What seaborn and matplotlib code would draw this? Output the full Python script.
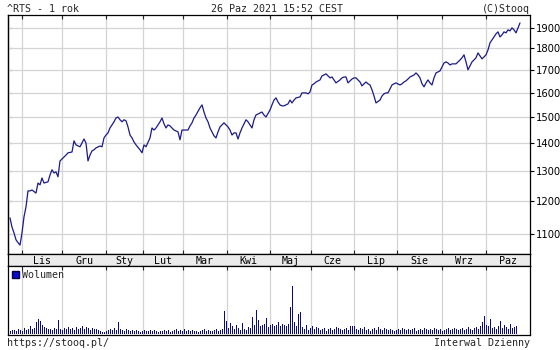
import matplotlib
matplotlib.use("Agg")
import matplotlib.pyplot as plt
from matplotlib.patches import Patch
from matplotlib.ticker import FixedLocator, NullLocator, NullFormatter
import seaborn as sns
import pandas as pd

# ---------------- data ----------------
title_left = "^RTS - 1 rok"
title_mid = "26 Paz 2021 15:52 CEST"
title_right = "(C)Stooq"
foot_left = "https://stooq.pl/"
foot_right = "Interwal Dzienny"

months = ["Lis", "Gru", "Sty", "Lut", "Mar", "Kwi", "Maj", "Cze", "Lip", "Sie", "Wrz", "Paz"]
month_start = [6, 26, 48, 66.5, 86.5, 108.5, 130, 150.5, 172, 193.5, 216, 238]
y_ticks = [1100, 1200, 1300, 1400, 1500, 1600, 1700, 1800, 1900]

day = [0, 1, 2, 3, 4, 5, 6, 7, 8, 9, 10, 11, 13, 14, 15, 16, 17, 19, 20, 21,
       22, 23, 24, 25, 26, 27, 28, 29, 31, 32, 33, 35, 37, 38, 39, 40, 41, 42, 43, 45,
       46, 47, 48, 49, 50, 51, 52, 53, 54, 55, 56, 57, 58, 59, 60, 61, 62, 63, 65, 66,
       67, 68, 70, 71, 72, 73, 74, 75, 76, 77, 78, 79, 80, 81, 82, 84, 85, 86, 88, 89,
       90, 91, 92, 93, 95, 96, 97, 98, 99, 100, 101, 102, 103, 104, 105, 107, 108, 109, 110, 111,
       112, 113, 114, 115, 116, 117, 118, 119, 120, 121, 122, 123, 125, 126, 127, 128, 130, 131, 132, 133,
       134, 135, 136, 137, 139, 140, 141, 142, 143, 145, 146, 148, 149, 150, 151, 152, 153, 155, 156, 157,
       158, 160, 161, 162, 163, 165, 166, 167, 168, 169, 171, 172, 173, 175, 176, 177, 178, 179, 180, 181,
       182, 183, 185, 186, 187, 188, 189, 190, 191, 192, 193, 195, 196, 197, 198, 199, 200, 202, 203, 204,
       205, 206, 207, 208, 209, 210, 211, 212, 213, 215, 216, 217, 218, 219, 220, 221, 222, 223, 225, 226,
       227, 228, 229, 230, 231, 232, 233, 234, 236, 237, 238, 239, 240, 241, 242, 243, 244, 245, 246, 247,
       248, 249, 250, 251, 252, 253, 254, 255]
close = [1148, 1120, 1103, 1083, 1075, 1068, 1103, 1151, 1182, 1233, 1233, 1236, 1226, 1259, 1253, 1276, 1259, 1263, 1286, 1304,
         1293, 1297, 1280, 1335, 1342, 1349, 1356, 1364, 1367, 1408, 1393, 1386, 1415, 1400, 1335, 1356, 1371, 1375, 1382, 1389,
         1386, 1419, 1430, 1438, 1457, 1469, 1481, 1496, 1500, 1489, 1481, 1489, 1485, 1461, 1430, 1419, 1404, 1393, 1375, 1364,
         1393, 1386, 1419, 1457, 1449, 1457, 1469, 1481, 1496, 1473, 1457, 1469, 1465, 1457, 1449, 1442, 1412, 1449, 1449, 1449,
         1465, 1477, 1496, 1508, 1537, 1549, 1520, 1496, 1481, 1457, 1442, 1427, 1419, 1442, 1461, 1477, 1469, 1461, 1449, 1430,
         1438, 1438, 1415, 1438, 1457, 1473, 1489, 1481, 1469, 1457, 1489, 1508, 1516, 1520, 1508, 1500, 1528, 1549, 1569, 1578,
         1561, 1549, 1545, 1545, 1553, 1569, 1557, 1569, 1578, 1582, 1599, 1599, 1595, 1603, 1633, 1638, 1646, 1655, 1673, 1677,
         1682, 1664, 1668, 1655, 1642, 1655, 1664, 1668, 1668, 1642, 1659, 1664, 1664, 1646, 1629, 1638, 1646, 1638, 1633, 1612,
         1586, 1557, 1569, 1586, 1595, 1599, 1599, 1616, 1633, 1638, 1642, 1633, 1638, 1646, 1651, 1659, 1668, 1677, 1686, 1677,
         1664, 1638, 1625, 1642, 1655, 1642, 1633, 1664, 1686, 1695, 1713, 1731, 1736, 1731, 1722, 1727, 1727, 1727, 1745, 1755,
         1769, 1736, 1700, 1718, 1736, 1745, 1755, 1778, 1750, 1759, 1769, 1792, 1826, 1840, 1855, 1870, 1880, 1855, 1865, 1880,
         1875, 1890, 1885, 1900, 1890, 1875, 1900, 1925]

volume = [3, 4, 4, 3, 5, 4, 3, 6, 4, 5,
          8, 5, 6, 12, 15, 13, 9, 7, 6, 5,
          5, 4, 6, 5, 14, 5, 4, 6, 5, 7,
          5, 6, 4, 7, 5, 6, 8, 5, 7, 6,
          4, 6, 5, 5, 4, 3, 2, 2, 3, 4,
          5, 4, 6, 4, 12, 5, 4, 3, 5, 4,
          3, 4, 3, 4, 3, 2, 3, 4, 3, 3,
          4, 3, 4, 3, 2, 3, 3, 4, 3, 4,
          2, 3, 4, 5, 3, 4, 3, 5, 3, 4,
          3, 4, 3, 3, 2, 3, 4, 5, 3, 4,
          3, 3, 4, 5, 3, 4, 5, 23, 13, 6,
          11, 8, 5, 9, 6, 4, 11, 5, 4, 7,
          6, 17, 9, 24, 14, 8, 9, 10, 16, 7,
          9, 10, 8, 9, 12, 8, 10, 9, 8, 10,
          28, 49, 12, 8, 20, 22, 7, 5, 9, 4,
          6, 8, 5, 7, 6, 4, 5, 6, 3, 5,
          6, 4, 5, 7, 6, 5, 4, 5, 6, 4,
          8, 8, 8, 5, 4, 6, 5, 7, 4, 5,
          3, 5, 6, 4, 7, 5, 4, 6, 5, 4,
          5, 4, 3, 4, 5, 4, 6, 5, 4, 5,
          4, 5, 6, 3, 4, 5, 4, 6, 5, 4,
          5, 4, 6, 5, 4, 5, 3, 4, 5, 6,
          4, 5, 6, 5, 4, 5, 6, 4, 5, 7,
          5, 4, 6, 7, 5, 8, 12, 18, 9, 8,
          15, 6, 7, 5, 8, 13, 6, 9, 7, 5,
          10, 6, 7, 8]
vol_day = list(range(len(volume)))

# ---------------- style ----------------
sns.set_theme(style="white")
plt.rcParams["font.family"] = ["DejaVu Sans"]
MONO = "DejaVu Sans Mono"
LINE = "#1a1a8c"
BAR = "#08088c"
GRID = "#d4d4d4"
W, H = 560, 350

fig = plt.figure(figsize=(5.6, 3.5), dpi=100)
fig.patch.set_facecolor("white")

def box(l, t, r, b):
    return [l / W, 1 - b / H, (r - l) / W, (b - t) / H]

ax = fig.add_axes(box(8, 15, 530, 254))
band = fig.add_axes(box(8, 254, 530, 266))
axv = fig.add_axes(box(8, 266, 530, 335))

xlim = (-1, 260)

# ---- main price panel ----
price = pd.DataFrame({"day": day, "close": close})
sns.lineplot(data=price, x="day", y="close", ax=ax, color=LINE, linewidth=0.9)
ax.set_yscale("log")
ax.set_ylim(1043, 1966)
ax.set_xlim(*xlim)
ax.yaxis.set_major_locator(FixedLocator(y_ticks))
ax.yaxis.set_minor_locator(NullLocator())
ax.yaxis.set_minor_formatter(NullFormatter())
ax.set_yticklabels([str(v) for v in y_ticks])
ax.yaxis.tick_right()
ax.tick_params(axis="y", which="major", direction="out", length=3, width=0.8,
               pad=1, labelsize=7.2, colors="black")
ax.set_xticks(month_start)
ax.tick_params(axis="x", which="major", direction="in", length=3, width=0.8,
               top=True, bottom=True, labelbottom=False)
ax.grid(True, which="major", color=GRID, linewidth=0.9)
ax.set_axisbelow(True)
ax.set_xlabel("")
ax.set_ylabel("")
for s in ax.spines.values():
    s.set_color("black")
    s.set_linewidth(0.9)

# left inside ticks
sec = ax.secondary_yaxis("left")
sec.set_yticks(y_ticks)
sec.yaxis.set_minor_locator(NullLocator())
sec.tick_params(axis="y", which="both", direction="in", length=3, width=0.8, labelleft=False)
sec.spines["left"].set_linewidth(0.9)

# ---- month band ----
band.set_facecolor("#ebebeb")
band.set_xlim(*xlim)
band.set_ylim(0, 1)
band.set_xticks([])
band.set_yticks([])
for s in band.spines.values():
    s.set_color("black")
    s.set_linewidth(0.9)
ends = month_start[1:] + [xlim[1]]
for name, a, b in zip(months, month_start, ends):
    band.text((a + b) / 2, 0.45, name, ha="center", va="center",
              family=MONO, fontsize=7.2, color="black")

# ---- volume panel ----
vol = pd.DataFrame({"day": vol_day, "volume": volume})
sns.barplot(data=vol, x="day", y="volume", ax=axv, native_scale=True, color=BAR,
            width=0.5, errorbar=None, saturation=1, linewidth=0)
axv.set_xlim(*xlim)
axv.set_ylim(-0.8, 69)
axv.set_yticks([])
axv.set_xticks(month_start)
axv.tick_params(axis="x", which="major", direction="in", length=3, width=0.8,
                top=True, bottom=False, labelbottom=False)
axv.grid(True, axis="x", color=GRID, linewidth=0.9)
axv.set_axisbelow(True)
axv.set_xlabel("")
axv.set_ylabel("")
for s in axv.spines.values():
    s.set_color("black")
    s.set_linewidth(0.9)
axv.legend(handles=[Patch(facecolor="#0a0ad0", edgecolor="#000040", label="Wolumen")],
           loc="upper left", frameon=False, handlelength=0.7, handleheight=0.7,
           handletextpad=0.3, borderaxespad=0.15, borderpad=0.2,
           prop={"family": MONO, "size": 7.2})

# ---- header / footer text ----
fig.text(7 / W, 1 - 8.5 / H, title_left, ha="left", va="center", family=MONO, fontsize=7.2)
fig.text(277 / W, 1 - 8.5 / H, title_mid, ha="center", va="center", family=MONO, fontsize=7.2)
fig.text(530 / W, 1 - 8.5 / H, title_right, ha="right", va="center", family=MONO, fontsize=7.2)
fig.text(7 / W, 1 - 343.5 / H, foot_left, ha="left", va="center", family=MONO, fontsize=7.2)
fig.text(530 / W, 1 - 343.5 / H, foot_right, ha="right", va="center", family=MONO, fontsize=7.2)

fig.savefig("out.png", dpi=100, facecolor="white")
